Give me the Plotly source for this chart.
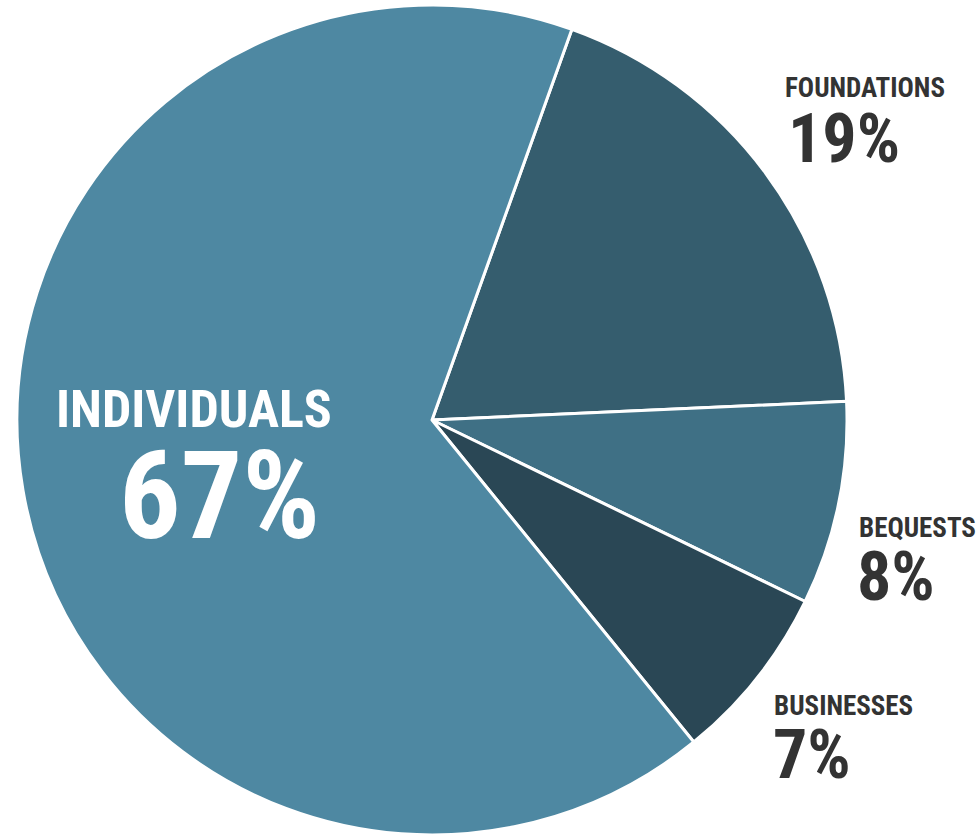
import plotly.graph_objects as go

categories = ["FOUNDATIONS", "BEQUESTS", "BUSINESSES", "INDIVIDUALS"]
shares = [19, 8, 7, 67]
pct_labels = ["19%", "8%", "7%", "67%"]
colors = ["#355d6e", "#3f7085", "#2a4755", "#4e88a2"]

W, H = 980, 835
FONT = "Roboto Condensed, Liberation Sans Narrow, Roboto, sans-serif"

fig = go.Figure(go.Pie(
    labels=categories,
    values=shares,
    sort=False,
    direction="clockwise",
    rotation=19.7,
    marker=dict(colors=colors, line=dict(color="white", width=3)),
    textinfo="none",
    hoverinfo="label+percent",
    domain=dict(x=[17 / W, 847 / W], y=[0, 1 - 5 / H]),
    showlegend=False,
))

# label placement: name x px, name y px, pct x px, pct y px, anchor, sizes, colour
places = {
    "FOUNDATIONS": (783, 88, 786, 139, "left", 27, 68, "#333333"),
    "BEQUESTS": (857, 528, 855, 577, "left", 27, 68, "#333333"),
    "BUSINESSES": (772, 706, 771, 755, "left", 27, 68, "#333333"),
    "INDIVIDUALS": (194, 409, 219, 496, "center", 52, 122, "white"),
}

annotations = []
for cat, pct in zip(categories, pct_labels):
    x1, y1, x2, y2, anchor, s1, s2, col = places[cat]
    annotations.append(dict(
        x=x1 / W, y=1 - y1 / H, xref="paper", yref="paper",
        text="<b>%s</b>" % cat, showarrow=False, xanchor=anchor, yanchor="middle",
        font=dict(family=FONT, size=s1, color=col),
    ))
    annotations.append(dict(
        x=x2 / W, y=1 - y2 / H, xref="paper", yref="paper",
        text="<b>%s</b>" % pct, showarrow=False, xanchor=anchor, yanchor="middle",
        font=dict(family=FONT, size=s2, color=col),
    ))

fig.update_layout(
    width=W, height=H,
    margin=dict(l=0, r=0, t=0, b=0),
    paper_bgcolor="white",
    plot_bgcolor="white",
    annotations=annotations,
)

fig.write_html("out.html")
